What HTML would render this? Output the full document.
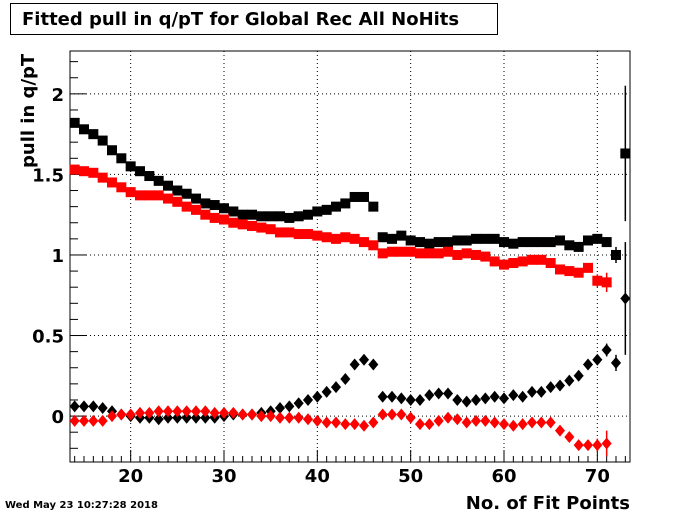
<!DOCTYPE html>
<html><head><meta charset="utf-8"><style>
html,body{margin:0;padding:0;background:#fff;}
svg{display:block;font-family:"DejaVu Sans","Liberation Sans",sans-serif;font-weight:bold;}
</style></head><body>
<svg id="c" width="700" height="514" xmlns="http://www.w3.org/2000/svg">
<rect x="0" y="0" width="700" height="514" fill="#fff"/>
<rect x="10.5" y="3.5" width="487" height="31" fill="#fff" stroke="#000"/>
<text x="22" y="25" font-size="18">Fitted pull in q/pT for Global Rec All NoHits</text>
<text transform="translate(34,168) rotate(-90)" font-size="18">pull in q/pT</text>
<text x="630" y="509" font-size="18" text-anchor="end">No. of Fit Points</text>
<text x="5" y="508" font-size="10">Wed May 23 10:27:28 2018</text>
<g id="grid"></g>
<g id="axes"></g>
<g id="marks"></g>
</svg>
<script>
const xs = [14,15,16,17,18,19,20,21,22,23,24,25,26,27,28,29,30,31,32,33,34,35,36,37,38,39,40,41,42,43,44,45,46,47,48,49,50,51,52,53,54,55,56,57,58,59,60,61,62,63,64,65,66,67,68,69,70,71,72,73];
const blackSq = [1.82,1.78,1.75,1.71,1.65,1.60,1.55,1.52,1.49,1.46,1.43,1.40,1.38,1.35,1.32,1.31,1.29,1.27,1.25,1.25,1.24,1.24,1.24,1.23,1.24,1.25,1.27,1.28,1.30,1.32,1.36,1.36,1.30,1.11,1.10,1.12,1.09,1.08,1.07,1.08,1.08,1.09,1.09,1.10,1.10,1.10,1.08,1.07,1.08,1.08,1.08,1.08,1.09,1.06,1.05,1.09,1.10,1.08,1.00,1.63];
const blackSqErr = [0,0,0,0,0,0,0,0,0,0,0,0,0,0,0,0,0,0,0,0,0,0,0,0,0,0,0,0,0,0,0,0,0,0,0,0,0,0,0,0,0,0,0,0,0,0,0,0,0,0,0,0,0,0,0,0.02,0.02,0.03,0.05,0.42];
const redSq = [1.53,1.52,1.51,1.48,1.45,1.42,1.39,1.37,1.37,1.37,1.35,1.33,1.30,1.28,1.25,1.23,1.22,1.20,1.19,1.18,1.17,1.16,1.14,1.14,1.13,1.13,1.12,1.11,1.10,1.11,1.10,1.08,1.06,1.01,1.02,1.02,1.02,1.01,1.01,1.01,1.02,1.00,1.01,1.00,0.99,0.96,0.94,0.95,0.96,0.97,0.97,0.95,0.91,0.90,0.89,0.92,0.84,0.83];
const redSqErr = [0,0,0,0,0,0,0,0,0,0,0,0,0,0,0,0,0,0,0,0,0,0,0,0,0,0,0,0,0,0,0,0,0,0,0,0,0,0,0,0,0,0,0,0,0,0,0,0,0,0,0,0,0,0,0,0.02,0.04,0.06];
const blackDi = [0.06,0.06,0.06,0.05,0.03,0.01,0.00,-0.01,-0.01,-0.02,-0.01,-0.01,-0.01,-0.01,-0.01,-0.01,0.00,0.01,0.01,0.01,0.02,0.03,0.05,0.06,0.08,0.10,0.12,0.15,0.18,0.23,0.32,0.35,0.32,0.12,0.12,0.11,0.10,0.10,0.13,0.14,0.14,0.10,0.09,0.10,0.11,0.12,0.11,0.13,0.12,0.15,0.15,0.18,0.19,0.22,0.25,0.32,0.35,0.41,0.33,0.73];
const blackDiErr = [0,0,0,0,0,0,0,0,0,0,0,0,0,0,0,0,0,0,0,0,0,0,0,0,0,0,0,0,0,0,0,0,0,0,0,0,0,0,0,0,0,0,0,0,0,0,0,0,0,0,0,0,0,0,0,0,0.02,0.04,0.05,0.35];
const redDi = [-0.03,-0.03,-0.03,-0.03,0.00,0.01,0.01,0.02,0.02,0.03,0.03,0.03,0.03,0.03,0.03,0.02,0.02,0.02,0.01,0.01,0.00,0.00,-0.01,-0.01,-0.01,-0.02,-0.03,-0.04,-0.04,-0.05,-0.05,-0.06,-0.04,0.01,0.01,0.01,-0.01,-0.05,-0.05,-0.03,-0.01,-0.02,-0.04,-0.03,-0.03,-0.04,-0.05,-0.06,-0.05,-0.04,-0.04,-0.04,-0.09,-0.13,-0.18,-0.18,-0.18,-0.17];
const redDiErr = [0,0,0,0,0,0,0,0,0,0,0,0,0,0,0,0,0,0,0,0,0,0,0,0,0,0,0,0,0,0,0,0,0,0,0,0,0,0,0,0,0,0,0,0,0,0,0,0,0,0,0,0,0,0,0.02,0.03,0.04,0.08];
const xTicks = [20,30,40,50,60,70];
const yTicks = [0,0.5,1,1.5,2];

const X0=70,X1=630,Y0=51,Y1=462, xmin=13.5,xmax=73.5,ymin=-0.285,ymax=2.266;
const sx=v=>X0+(v-xmin)/(xmax-xmin)*(X1-X0);
const sy=v=>Y1-(v-ymin)/(ymax-ymin)*(Y1-Y0);
const NS='http://www.w3.org/2000/svg';
function mk(tag,attrs,parent){const e=document.createElementNS(NS,tag);for(const k in attrs)e.setAttribute(k,attrs[k]);parent.appendChild(e);return e;}
const grid=document.getElementById('grid'),axes=document.getElementById('axes'),marks=document.getElementById('marks');
xTicks.forEach(t=>{const l=mk('line',{x1:sx(t),x2:sx(t),y1:Y0,y2:Y1,stroke:'#000','stroke-dasharray':'1,3'},grid);

});
yTicks.forEach(t=>{const l=mk('line',{x1:X0,x2:X1,y1:sy(t),y2:sy(t),stroke:'#000','stroke-dasharray':'1,3'},grid);

});
const fr=mk('rect',{x:X0,y:Y0,width:X1-X0,height:Y1-Y0,fill:'none',stroke:'#000'},axes);


for(let v=14;v<=73;v++){const big=v%10==0;mk('line',{x1:sx(v),x2:sx(v),y1:Y1,y2:Y1-(big?12:6),stroke:'#000'},axes);}
for(let i=-2;i<=22;i++){const v=i/10;if(v<ymin||v>ymax)continue;const big=i%5==0;mk('line',{x1:X0,x2:X0+(big?16:8),y1:sy(v),y2:sy(v),stroke:'#000'},axes);}
xTicks.forEach(t=>{const e=mk('text',{x:sx(t),y:482,'font-size':18,'text-anchor':'middle'},axes);e.textContent=t;

});
yTicks.forEach(t=>{const e=mk('text',{x:64,y:sy(t)+7,'font-size':18,'text-anchor':'end'},axes);e.textContent=t;

});
function series(vals,errs,color,shape,name){
 const g=mk('g',{},marks);
 
 
 vals.forEach((v,i)=>{const cx=sx(xs[i]),cy=sy(v),e=errs[i]||0;
  mk('line',{x1:cx-4.7,x2:cx+4.7,y1:cy,y2:cy,stroke:color},g);
  if(e>0){mk('line',{x1:cx,x2:cx,y1:sy(v+e),y2:sy(Math.max(v-e,ymin)),stroke:color,'stroke-width':1.5},g);}
  let m;
  if(shape=='sq'){m=mk('rect',{x:cx-5,y:cy-5,width:10,height:10,fill:color},g);}
  else{m=mk('polygon',{points:`${cx},${cy-6} ${cx+5},${cy} ${cx},${cy+6} ${cx-5},${cy}`,fill:color},g);}
  
  
 });
}
series(blackSq,blackSqErr,'#000','sq','black-squares');
series(redSq,redSqErr,'#f00','sq','red-squares');
series(blackDi,blackDiErr,'#000','di','black-diamonds');
series(redDi,redDiErr,'#f00','di','red-diamonds');
</script>
</body></html>
